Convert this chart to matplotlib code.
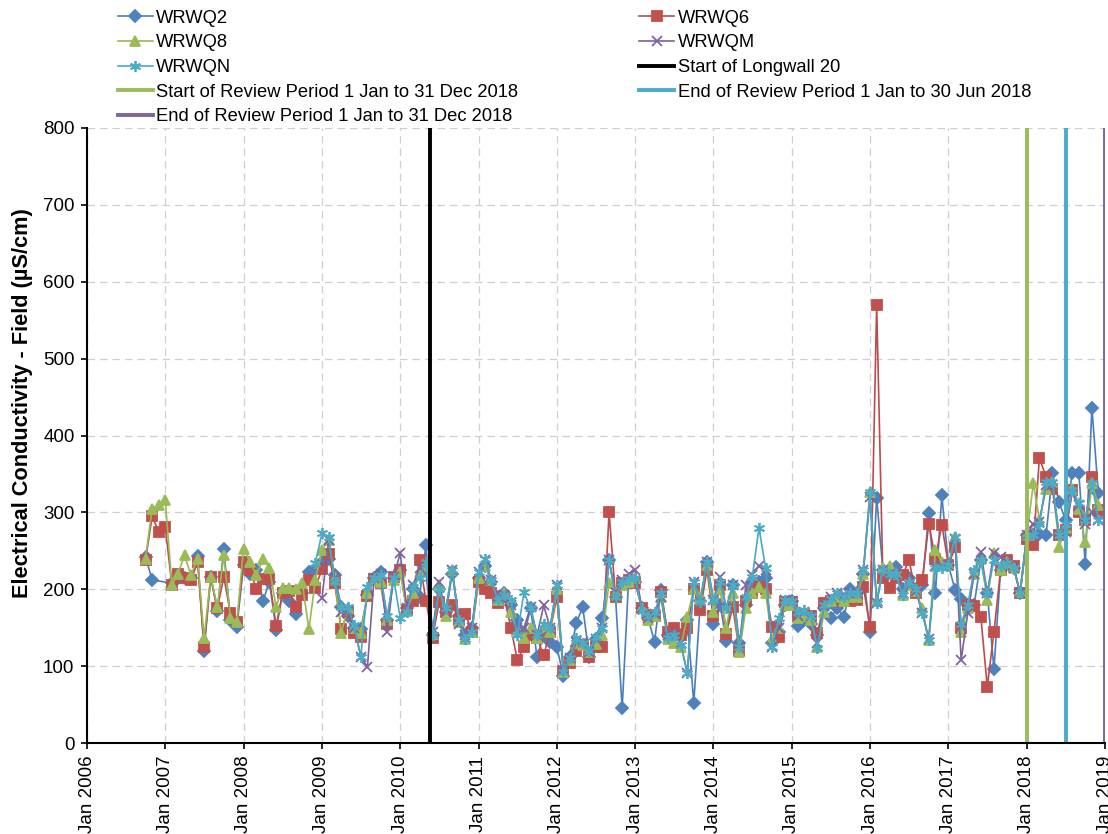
import matplotlib.pyplot as plt
import matplotlib.dates as mdates
import numpy as np
import pandas as pd

nan = np.nan

# field EC (uS/cm), one value per month
# WRWQ2 / WRWQ6 / WRWQ8 start Oct 2006
wrwq2 = [242, 212, nan,
         nan, 208, 215, 215, 215, 243, 120, 216, 172, 253, 160, 151,
         231, 220, 225, 185, 210, 147, 195, 185, 168, 195, 222, 225,
         235, 240, 218, 177, 165, 150, 148, 192, 215, 222, 160, 215,
         225, 175, 200, 190, 258, 140, 200, 170, 220, 165, 140, 150,
         215, 230, 210, 190, 195, 180, 160, 140, 175, 112, 140, 131,
         125, 87, 112, 156, 177, 112, 135, 162, 238, 190, 45, 212,
         210, 175, 163, 132, 199, 140, 140, 140, 160, 52, 185, 235,
         155, 180, 133, 205, 130, 180, 210, 209, 215, 130, 145, 180,
         185, 152, 160, 155, 140, 175, 163, 175, 164, 200, 195, 220,
         145, 319, 225, 222, 229, 200, 215, 200, 205, 299, 195, 322,
         231, 199, 187, 180, 180, 238, 195, 96, 225, 235, 228, 195,
         270, 270, 272, 270, 351, 313, 290, 351, 351, 233, 436, 325]
wrwq6 = [238, 295, 275,
         281, 205, 220, 215, 212, 235, 125, 216, 175, 216, 169, 157,
         235, 225, 200, 213, 213, 152, 195, 198, 177, 192, 212, 202,
         226, 246, 208, 148, 170, 143, 138, 191, 213, 208, 155, 216,
         225, 173, 185, 238, 185, 137, 183, 170, 180, 160, 168, 145,
         210, 200, 195, 182, 190, 150, 108, 125, 140, 137, 114, 145,
         190, 92, 104, 120, 128, 112, 125, 125, 300, 190, 208, 212,
         208, 176, 167, 165, 197, 145, 150, 141, 150, 200, 173, 225,
         165, 205, 142, 177, 120, 185, 195, 203, 200, 151, 138, 183,
         183, 165, 168, 165, 143, 182, 185, 185, 185, 185, 186, 203,
         151, 570, 215, 202, 215, 218, 238, 195, 212, 285, 240, 284,
         231, 255, 150, 180, 178, 164, 73, 144, 225, 238, 230, 195,
         265, 258, 371, 346, 330, 270, 277, 329, 300, 290, 346, 303]
wrwq8 = [240, 305, 310,
         316, 205, 220, 244, 218, 240, 137, 216, 177, 244, 163, 158,
         253, 235, 218, 240, 228, 177, 202, 202, 200, 208, 148, 212,
         251, 264, 215, 143, 175, 150, 143, 195, 212, 210, 160, 212,
         222, 172, 195, 222, 230, 142, 205, 165, 225, 158, 135, 145,
         215, 230, 212, 186, 195, 170, 145, 137, 150, 137, 151, 145,
         200, 92, 108, 130, 128, 118, 129, 140, 208, 195, 205, 210,
         215, 176, 160, 165, 190, 135, 130, 125, 164, 200, 190, 232,
         170, 200, 150, 195, 118, 175, 195, 203, 195, 135, 150, 180,
         180, 162, 165, 160, 125, 170, 185, 190, 185, 190, 190, 220,
         326, 185, 228, 230, 220, 192, 205, 198, 175, 134, 251, 235,
         231, 268, 145, 175, 220, 240, 186, 247, 225, 235, 228, 196,
         270, 338, 290, 330, 340, 255, 280, 330, 305, 262, 338, 310]
# WRWQM starts Jan 2009
wrwqm = [188, 264, 215, 170, 172, 150, 112, 99, 214, 220, 145, 216,
         247, 175, 205, 228, 220, 145, 210, 170, 225, 155, 140, 150,
         222, 238, 212, 190, 193, 180, 150, 150, 177, 140, 179, 150,
         205, 95, 110, 131, 131, 118, 135, 150, 238, 195, 212, 220,
         225, 175, 163, 168, 190, 140, 142, 130, 91, 210, 183, 235,
         186, 216, 176, 205, 125, 205, 219, 230, 225, 125, 150, 186,
         185, 165, 170, 165, 130, 178, 190, 195, 192, 195, 195, 225,
         320, 182, 225, 220, 218, 195, 205, 198, 169, 135, 230, 230,
         231, 265, 108, 169, 220, 248, 195, 247, 242, 235, 228, 195,
         270, 285, 287, 335, 335, 270, 275, 325, 310, 285, 300, 290]
# WRWQN starts Dec 2008
wrwqn = [234,
         273, 268, 209, 177, 177, 153, 112, 203, 214, 218, 165, 215,
         162, 170, 203, 215, 235, 140, 200, 175, 225, 160, 135, 145,
         222, 240, 212, 186, 193, 186, 140, 196, 175, 140, 155, 150,
         205, 92, 110, 136, 130, 120, 138, 150, 238, 190, 210, 213,
         215, 172, 165, 170, 195, 137, 140, 128, 91, 210, 183, 235,
         186, 210, 175, 205, 125, 190, 216, 280, 228, 125, 162, 186,
         185, 170, 173, 165, 123, 180, 187, 195, 190, 195, 195, 225,
         326, 182, 225, 220, 220, 192, 210, 200, 169, 134, 227, 228,
         231, 268, 155, 180, 225, 238, 195, 238, 230, 234, 228, 195,
         268, 270, 285, 340, 340, 270, 285, 329, 312, 290, 338, 290]

series = [
    ("WRWQ2", wrwq2, "2006-10-01", "#4A7EBB", "#4F81BD", "D", 6),
    ("WRWQ6", wrwq6, "2006-10-01", "#BE4B48", "#C0504D", "s", 7),
    ("WRWQ8", wrwq8, "2006-10-01", "#98B954", "#9BBB59", "^", 7.5),
    ("WRWQM", wrwqm, "2009-01-01", "#7D60A0", "#8064A2", "x", 6.5),
    ("WRWQN", wrwqn, "2008-12-01", "#46AAC5", "#4BACC6", (6, 2, 0), 8),
]

events = [
    ("Start of Longwall 20", "2010-05-21", "black"),
    ("Start of Review Period 1 Jan to 31 Dec 2018", "2018-01-01", "#9BBB59"),
    ("End of Review Period 1 Jan to 30 Jun 2018", "2018-07-01", "#4BACC6"),
    ("End of Review Period 1 Jan to 31 Dec 2018", "2018-12-31", "#8064A2"),
]

plt.rcParams['font.family'] = ['Liberation Sans', 'DejaVu Sans']

fig = plt.figure(figsize=(11.08, 8.34), dpi=100)
ax = fig.add_axes([87 / 1108, 1 - 743 / 834, 1018 / 1108, 615 / 834])

handles = {}
for name, vals, start, lc, mc, mk, ms in series:
    s = pd.Series(vals, index=pd.date_range(start, periods=len(vals), freq="MS")).dropna()
    h, = ax.plot(s.index, s.values, color=lc, linewidth=1.2, marker=mk, markersize=ms,
                 markerfacecolor=mc, markeredgecolor=mc, markeredgewidth=1.3, label=name)
    handles[name] = h

for name, day, col in events:
    handles[name] = ax.axvline(pd.Timestamp(day), color=col, linewidth=2.8, label=name)

ax.set_xlim(pd.Timestamp("2006-01-01"), pd.Timestamp("2019-01-01"))
ax.set_ylim(0, 800)
ax.set_yticks(np.arange(0, 801, 100))
ax.xaxis.set_major_locator(mdates.YearLocator())
ax.xaxis.set_major_formatter(mdates.DateFormatter("%b %Y"))
ax.tick_params(axis="x", rotation=90, labelsize=13.5, length=4, pad=5, width=1.2)
ax.tick_params(axis="y", labelsize=13.5, length=4, pad=5, width=1.2)
ax.grid(True, color="#CFCFCF", linestyle=(0, (6, 4)), linewidth=0.9)
ax.set_axisbelow(True)
for sp in ["top", "right"]:
    ax.spines[sp].set_visible(False)
for sp in ["left", "bottom"]:
    ax.spines[sp].set_linewidth(1.5)

ax.set_ylabel("Electrical Conductivity - Field (µS/cm)", fontsize=15.7, fontweight="bold")
ax.yaxis.set_label_coords(-0.053, 0.553)

order = ["WRWQ2", "WRWQ8", "WRWQN", events[1][0], events[3][0],
         "WRWQ6", "WRWQM", events[0][0], events[2][0]]
fig.legend([handles[k] for k in order], order, loc="upper left", ncol=2,
           bbox_to_anchor=(0.093, 1.006), frameon=False, fontsize=13.2,
           handlelength=1.9, handletextpad=0.2, columnspacing=6.6,
           labelspacing=0.42, borderpad=0.3)

fig.savefig("out.png", dpi=100)
